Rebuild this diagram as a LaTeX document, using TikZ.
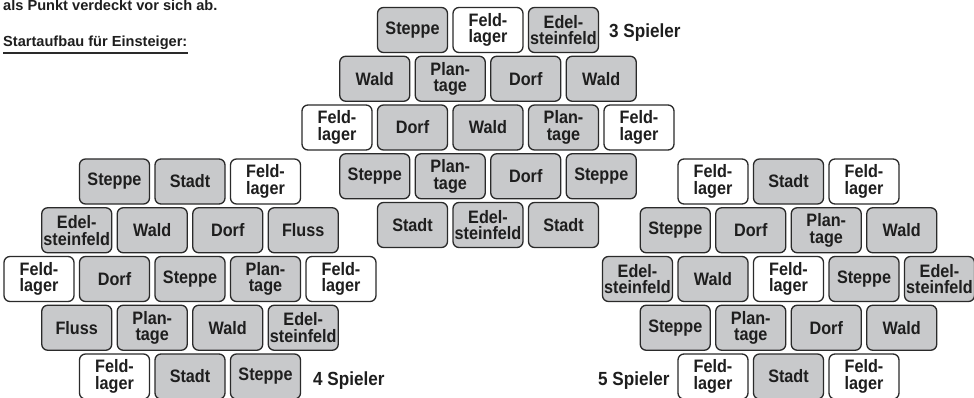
\documentclass[tikz,border=0pt]{standalone}
\usepackage{fontspec}
\setmainfont{Liberation Sans}
\newfontfamily\tilefont{Liberation Sans}[FakeStretch=0.9]
\definecolor{tilegray}{HTML}{C8C9CB}
\definecolor{tileline}{HTML}{2A2A2A}
\definecolor{inktext}{HTML}{1E1E1E}
\tikzset{
  tile/.style={draw=tileline, line width=1.3pt, rounded corners=6pt,
    minimum width=70pt, minimum height=45pt, inner sep=0pt, align=center,
    text=inktext, font={\tilefont\bfseries\fontsize{18pt}{16.7pt}\selectfont}},
  land/.style={tile, fill=tilegray},
  camp/.style={tile, fill=white},
  playerlabel/.style={anchor=base west, inner sep=0pt, text=inktext,
    font={\tilefont\bfseries\fontsize{19pt}{22pt}\selectfont}},
  bodytext/.style={anchor=base west, inner sep=0pt, text=inktext,
    font={\bfseries\fontsize{14.6pt}{17pt}\selectfont}}
}
\begin{document}
\begin{tikzpicture}[x=1pt,y=-1pt]
\useasboundingbox (0,0) rectangle (974,398);

% running text
\node[bodytext] (line) at (3,10.5) {als Punkt verdeckt vor sich ab.};
\node[bodytext] (start) at (3,47) {Startaufbau für Einsteiger:};
\draw[tileline, line width=1.3pt] ([yshift=-6pt]start.base west) -- ([yshift=-6pt]start.base east);

% ---- 3 players ----
\node[land] (t11) at (412.5,30) {Steppe};
\node[camp] (t12) at (488,30) {Feld-\\lager};
\node[land] (t13) at (563.5,30) {Edel-\\steinfeld};

\node[land] (t21) at (374.75,78.75) {Wald};
\node[land] (t22) at (450.25,78.75) {Plan-\\tage};
\node[land] (t23) at (525.75,78.75) {Dorf};
\node[land] (t24) at (601.25,78.75) {Wald};

\node[camp] (t31) at (337,127.5) {Feld-\\lager};
\node[land] (t32) at (412.5,127.5) {Dorf};
\node[land] (t33) at (488,127.5) {Wald};
\node[land] (t34) at (563.5,127.5) {Plan-\\tage};
\node[camp] (t35) at (639,127.5) {Feld-\\lager};

\node[land] (t41) at (374.75,176.25) {Steppe};
\node[land] (t42) at (450.25,176.25) {Plan-\\tage};
\node[land] (t43) at (525.75,176.25) {Dorf};
\node[land] (t44) at (601.25,176.25) {Steppe};

\node[land] (t51) at (412.5,225) {Stadt};
\node[land] (t52) at (488,225) {Edel-\\steinfeld};
\node[land] (t53) at (563.5,225) {Stadt};

\node[playerlabel] (lab3) at (609,37.5) {3 Spieler};

% ---- 4 players ----
\node[land] (l11) at (114.5,181.5) {Steppe};
\node[land] (l12) at (190,181.5) {Stadt};
\node[camp] (l13) at (265.5,181.5) {Feld-\\lager};

\node[land] (l21) at (76.75,230.25) {Edel-\\steinfeld};
\node[land] (l22) at (152.25,230.25) {Wald};
\node[land] (l23) at (227.75,230.25) {Dorf};
\node[land] (l24) at (303.25,230.25) {Fluss};

\node[camp] (l31) at (39,279) {Feld-\\lager};
\node[land] (l32) at (114.5,279) {Dorf};
\node[land] (l33) at (190,279) {Steppe};
\node[land] (l34) at (265.5,279) {Plan-\\tage};
\node[camp] (l35) at (341,279) {Feld-\\lager};

\node[land] (l41) at (76.75,327.75) {Fluss};
\node[land] (l42) at (152.25,327.75) {Plan-\\tage};
\node[land] (l43) at (227.75,327.75) {Wald};
\node[land] (l44) at (303.25,327.75) {Edel-\\steinfeld};

\node[camp] (l51) at (114.5,376.5) {Feld-\\lager};
\node[land] (l52) at (190,376.5) {Stadt};
\node[land] (l53) at (265.5,376.5) {Steppe};

\node[playerlabel] (lab4) at (313,385) {4 Spieler};

% ---- 5 players ----
\node[camp] (r11) at (713,181.5) {Feld-\\lager};
\node[land] (r12) at (788.5,181.5) {Stadt};
\node[camp] (r13) at (864,181.5) {Feld-\\lager};

\node[land] (r21) at (675.25,230.25) {Steppe};
\node[land] (r22) at (750.75,230.25) {Dorf};
\node[land] (r23) at (826.25,230.25) {Plan-\\tage};
\node[land] (r24) at (901.75,230.25) {Wald};

\node[land] (r31) at (637.5,279) {Edel-\\steinfeld};
\node[land] (r32) at (713,279) {Wald};
\node[camp] (r33) at (788.5,279) {Feld-\\lager};
\node[land] (r34) at (864,279) {Steppe};
\node[land] (r35) at (939.5,279) {Edel-\\steinfeld};

\node[land] (r41) at (675.25,327.75) {Steppe};
\node[land] (r42) at (750.75,327.75) {Plan-\\tage};
\node[land] (r43) at (826.25,327.75) {Dorf};
\node[land] (r44) at (901.75,327.75) {Wald};

\node[camp] (r51) at (713,376.5) {Feld-\\lager};
\node[land] (r52) at (788.5,376.5) {Stadt};
\node[camp] (r53) at (864,376.5) {Feld-\\lager};

\node[playerlabel] (lab5) at (598,385) {5 Spieler};
\end{tikzpicture}
\end{document}
